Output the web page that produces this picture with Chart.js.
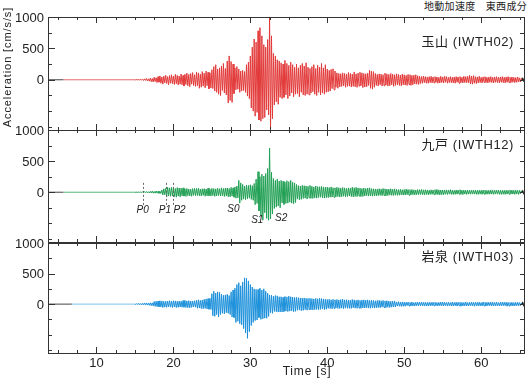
<!DOCTYPE html>
<html>
<head>
<meta charset="utf-8">
<script src="https://cdn.jsdelivr.net/npm/chart.js@4"></script>
<style>
  body { margin: 0; background: #fff; width: 529px; height: 383px; overflow: hidden; position: relative; }
  canvas { position: absolute; left: 0; }
  .txt { position: absolute; white-space: nowrap; color: #222; }
</style>
</head>
<body>
<div class="txt" style="right:2px;top:-2px;font:10px 'Noto Sans CJK JP';letter-spacing:0.3px;">地動加速度　東西成分</div>
<canvas id="c1" width="529" height="137" style="top:5px"></canvas>
<canvas id="c2" width="529" height="136" style="top:118px"></canvas>
<canvas id="c3" width="529" height="152" style="top:231px"></canvas>
<script>
// time axis of the traces: first sample and step (s)
const T0 = 15;
const DT = 0.125;
const xMin = 3.7;
const xMax = 65.7;
const yTicks = [-750, -500, -250, 0, 250, 500, 750, 1000];
const yLabels = [0, 500, 1000];
const xLabels = [10, 20, 30, 40, 50, 60];

const stations = ["玉山 (IWTH02)", "九戸 (IWTH12)", "岩泉 (IWTH03)"];

// acceleration [cm/s/s], 8 samples per second from 15 s (one row = one second)
const tamayama = [
  2,-3,4,-2,3,-4,5,-3,
  8,-12,15,-10,20,-18,14,-22,
  25,-30,20,-35,40,-28,33,-45,
  50,-38,62,-55,45,-70,58,-48,
  72,-60,50,-78,66,-55,80,-62,
  58,-75,85,-64,70,-82,60,-70,
  92,-80,70,-100,88,-75,105,-95,
  85,-110,98,-70,115,-92,80,-105,
  125,-95,110,-135,90,-118,130,-100,
  105,-128,140,-95,120,-145,110,-130,
  160,-140,210,-180,240,-200,170,-230,
  190,-250,220,-170,260,-210,180,-240,
  300,-370,380,-330,290,-360,250,-220,
  190,-160,210,-150,170,-200,140,-180,
  150,-170,130,-200,240,-260,280,-300,
  380,-450,520,-500,650,-580,600,-520,
  780,-640,830,-660,700,-620,560,-600,
  520,-480,640,-560,1000,-770,700,-620,
  420,-400,380,-350,320,-390,300,-280,
  270,-300,250,-280,310,-240,260,-300,
  230,-260,280,-210,240,-270,200,-230,
  250,-220,190,-270,230,-200,260,-240,
  220,-250,270,-230,200,-240,180,-210,
  210,-190,240,-230,180,-250,230,-200,
  200,-240,260,-210,190,-230,240,-200,
  170,-190,150,-180,165,-140,175,-160,
  140,-120,110,-135,100,-115,95,-105,
  110,-95,100,-120,90,-105,115,-100,
  100,-115,90,-105,125,-110,95,-120,
  105,-100,120,-95,110,-125,100,-115,
  95,-110,105,-90,150,-135,140,-150,
  130,-120,100,-90,85,-100,95,-80,
  90,-100,80,-95,105,-85,95,-100,
  85,-95,100,-80,90,-105,80,-90,
  95,-80,85,-90,75,-95,90,-80,
  80,-85,70,-90,85,-75,80,-90,
  70,-80,75,-65,80,-70,65,-75,
  55,-60,50,-55,60,-45,50,-55,
  45,-55,50,-45,55,-50,45,-50,
  50,-40,45,-55,40,-50,55,-45,
  45,-50,55,-40,50,-55,40,-45,
  50,-45,40,-50,45,-55,50,-40,
  45,-55,50,-45,40,-50,55,-45,
  50,-45,55,-50,70,-65,60,-70,
  65,-55,50,-60,45,-50,55,-45,
  40,-50,45,-40,50,-45,40,-50,
  45,-40,50,-45,40,-50,45,-40,
  50,-45,40,-50,45,-40,50,-45,
  40,-50,45,-40,50,-45,40,-45,
  45,-40,40,-45,35,-40,45,-35,
  30,-35,30
];
const kunohe = [
  2,-3,2,-2,3,-2,3,-3,
  6,-8,10,-7,12,-10,8,-12,
  14,-12,18,-15,12,-16,20,-14,
  16,-18,15,-20,35,-45,55,-40,
  62,-75,80,-58,70,-65,78,-60,
  72,-68,60,-80,75,-62,68,-74,
  65,-58,70,-62,55,-68,60,-55,
  52,-60,48,-65,58,-50,62,-56,
  60,-52,65,-58,50,-62,55,-50,
  58,-64,52,-60,66,-55,50,-62,
  62,-55,58,-66,54,-60,64,-52,
  56,-62,70,-58,60,-68,65,-60,
  68,-72,60,-75,78,-62,70,-80,
  85,-95,100,-90,190,-175,150,-130,
  125,-110,100,-120,115,-105,110,-95,
  120,-115,105,-130,140,-200,210,-180,
  330,-300,250,-380,290,-450,260,-330,
  300,-420,380,-450,710,-430,320,-350,
  220,-260,190,-240,210,-220,180,-250,
  190,-170,175,-195,160,-180,185,-175,
  170,-160,190,-175,160,-185,150,-165,
  125,-110,105,-120,100,-115,110,-100,
  105,-95,100,-110,95,-90,110,-100,
  95,-100,85,-90,100,-95,90,-85,
  88,-80,95,-90,85,-95,80,-88,
  82,-85,75,-80,85,-78,72,-82,
  70,-75,80,-70,72,-78,68,-72,
  75,-65,70,-72,62,-68,70,-60,
  66,-70,80,-75,72,-68,78,-70,
  70,-62,65,-70,60,-68,66,-60,
  60,-55,68,-62,70,-60,58,-64,
  55,-60,52,-58,50,-55,56,-50,
  50,-56,60,-52,54,-58,50,-54,
  50,-46,55,-50,48,-52,54,-48,
  45,-50,42,-48,46,-44,40,-46,
  42,-45,50,-40,44,-48,40,-42,
  45,-40,38,-42,36,-40,42,-38,
  40,-36,45,-40,38,-42,40,-36,
  36,-40,32,-36,38,-34,35,-38,
  40,-36,45,-40,38,-42,36,-40,
  35,-40,36,-32,38,-36,34,-30,
  40,-35,32,-36,30,-34,36,-32,
  35,-30,40,-35,32,-38,34,-30,
  30,-35,32,-30,30,-32,34,-30,
  35,-30,32,-34,30,-35,32,-30,
  30,-35,35,-30,32,-34,30,-32,
  30,-32,35,-30,30,-34,32,-30,
  35,-30,32,-34,30,-35,30,-32,
  30,-35,32,-30,30,-32,34,-30,
  35,-30,30,-34,32,-30,30,-35,
  30,-25,25
];
const iwaizumi = [
  6,-8,10,-7,12,-10,9,-12,
  14,-12,18,-15,20,-16,15,-20,
  22,-25,20,-28,42,-38,48,-42,
  50,-45,55,-48,52,-56,46,-50,
  45,-52,50,-44,56,-50,48,-55,
  55,-48,52,-56,46,-52,50,-48,
  48,-52,58,-50,60,-56,52,-58,
  56,-60,50,-54,48,-45,54,-50,
  62,-68,70,-64,60,-72,66,-75,
  78,-70,85,-80,90,-84,95,-88,
  170,-190,210,-200,180,-170,200,-210,
  190,-170,160,-150,145,-160,150,-140,
  160,-150,140,-170,200,-210,230,-220,
  260,-300,320,-280,350,-320,300,-340,
  360,-400,430,-470,420,-560,380,-450,
  320,-350,280,-300,250,-270,240,-260,
  240,-220,260,-250,230,-240,250,-230,
  210,-230,180,-200,150,-140,145,-150,
  130,-120,140,-125,135,-130,120,-128,
  120,-130,110,-120,125,-115,118,-122,
  130,-115,120,-110,115,-125,110,-118,
  110,-100,105,-95,100,-108,98,-102,
  100,-90,95,-100,92,-88,96,-94,
  90,-95,85,-90,92,-86,88,-92,
  95,-85,90,-80,85,-90,80,-84,
  75,-70,80,-72,70,-76,78,-70,
  70,-65,75,-70,68,-72,74,-66,
  80,-75,70,-65,72,-68,66,-70,
  65,-70,75,-60,70,-66,62,-68,
  70,-65,60,-70,66,-62,70,-64,
  65,-60,70,-65,62,-68,64,-60,
  60,-65,55,-60,58,-56,62,-58,
  55,-50,60,-55,52,-58,56,-52,
  50,-55,45,-50,48,-46,52,-48,
  35,-30,40,-35,32,-38,36,-34,
  30,-35,30,-25,32,-30,28,-32,
  35,-30,25,-30,30,-28,32,-26,
  30,-25,35,-30,28,-32,30,-28,
  25,-30,30,-25,28,-26,30,-28,
  30,-25,25,-30,28,-26,32,-28,
  35,-30,30,-25,28,-32,30,-26,
  25,-30,35,-30,28,-26,30,-32,
  30,-25,30,-35,28,-30,26,-28,
  35,-30,25,-30,30,-28,32,-26,
  30,-35,30,-25,28,-30,32,-28,
  25,-30,35,-30,28,-32,30,-26,
  30,-25,30,-30,32,-28,26,-30,
  35,-30,25,-30,30,-28,32,-26,
  30,-25,30,-35,28,-30,26,-28,
  30,-30,25,-30,28,-26,30,-28,
  25,-25,20
];
// quiet part before the event: end of the dark record (s)
const leadEnd = [5.7, 5.7, 6.8];
const tailTimes = [65.25, 65.4, 65.55, 65.7];
const tailValues = [0, 20, -20, 0];

// phase picks on 九戸
const pickTimes = [16.1, 19.0, 20.0];
const phaseNames = ["P0", "P1", "P2", "S0", "S1", "S2"];
const phaseLabelX = [16.0, 18.9, 20.8, 27.8, 30.9, 34.0];
const phaseLabelY = [-290, -290, -290, -280, -450, -420];

const colors = ["#e23a3a", "#22a055", "#1c90da"];
const quietColors = ["#e86a6a", "#55b67a", "#7cc2ec"];

const toPoints = (vals) => vals.map((v, i) => ({ x: T0 + i * DT, y: v }));

const framePlugin = {
  id: "frame",
  afterDraw(chart) {
    const { ctx, chartArea: a, scales } = chart;
    const x = scales.x;
    const y = scales.y;
    const idx = chart.options.panel;
    ctx.save();
    ctx.strokeStyle = "#333";
    ctx.lineWidth = 1;
    ctx.strokeRect(a.left + 0.5, a.top + 0.5, a.right - a.left - 1, a.bottom - a.top);
    // x ticks, inward, top and bottom
    ctx.beginPath();
    for (let t = 5; t <= xMax; t += 2.5) {
      const px = Math.round(x.getPixelForValue(t)) + 0.5;
      const len = t % 10 === 0 ? 6 : 3;
      ctx.moveTo(px, a.top); ctx.lineTo(px, a.top + len);
      ctx.moveTo(px, a.bottom); ctx.lineTo(px, a.bottom - len);
    }
    // y ticks, inward, left and right
    yTicks.forEach((v) => {
      const py = Math.round(y.getPixelForValue(v)) + 0.5;
      const len = yLabels.includes(v) ? 7 : 4;
      ctx.moveTo(a.left, py); ctx.lineTo(a.left + len, py);
      ctx.moveTo(a.right, py); ctx.lineTo(a.right - 5, py);
    });
    ctx.stroke();

    ctx.fillStyle = "#222";
    ctx.font = "13px 'Liberation Sans', Arial";
    ctx.textAlign = "right";
    ctx.textBaseline = "middle";
    yLabels.forEach((v) => ctx.fillText(String(v), a.left - 4, y.getPixelForValue(v) + 1));

    // station name
    ctx.font = "13px 'Liberation Sans', 'Noto Sans CJK JP'";
    ctx.letterSpacing = "0.6px";
    const nameY = idx === 0 ? 600 : 760;
    ctx.fillText(stations[idx], 514, y.getPixelForValue(nameY));
    ctx.letterSpacing = "0px";

    if (idx === 1) {
      ctx.strokeStyle = "#666";
      ctx.setLineDash([2, 2]);
      ctx.beginPath();
      pickTimes.forEach((t) => {
        const px = Math.round(x.getPixelForValue(t)) + 0.5;
        ctx.moveTo(px, y.getPixelForValue(150));
        ctx.lineTo(px, y.getPixelForValue(-210));
      });
      ctx.stroke();
      ctx.setLineDash([]);
      ctx.font = "italic 10px 'Liberation Sans', Arial";
      ctx.textAlign = "center";
      phaseNames.forEach((n, i) => {
        ctx.fillText(n, x.getPixelForValue(phaseLabelX[i]), y.getPixelForValue(phaseLabelY[i]));
      });
    }

    if (idx === 2) {
      ctx.font = "13px 'Liberation Sans', Arial";
      ctx.textAlign = "center";
      ctx.textBaseline = "middle";
      xLabels.forEach((t) => ctx.fillText(String(t), x.getPixelForValue(t), a.bottom + 10));
      ctx.font = "12px 'Liberation Sans', Arial";
      ctx.letterSpacing = "0.8px";
      ctx.fillText("Time [s]", 307, a.bottom + 19);
      ctx.letterSpacing = "0px";
    }
    if (idx === 0) {
      ctx.translate(8, 62);
      ctx.rotate(-Math.PI / 2);
      ctx.font = "11px 'Liberation Sans', Arial";
      ctx.letterSpacing = "0.9px";
      ctx.textAlign = "center";
      ctx.fillText("Acceleration [cm/s/s]", 0, 0);
    }
    ctx.restore();
  },
};

const makePanel = (id, idx, values, padBottom) => {
  new Chart(document.getElementById(id), {
    type: "line",
    data: {
      datasets: [
        { data: [{ x: xMin, y: 0 }, { x: leadEnd[idx], y: 0 }], borderColor: "#444" },
        { data: [{ x: leadEnd[idx], y: 0 }, { x: T0, y: 0 }], borderColor: quietColors[idx] },
        { data: toPoints(values), borderColor: colors[idx] },
        { data: tailTimes.map((t, i) => ({ x: t, y: tailValues[i] })), borderColor: "#222", borderWidth: 1.5 },
      ],
    },
    options: {
      panel: idx,
      responsive: false,
      animation: false,
      layout: { padding: { left: 48, right: 4, top: 12, bottom: padBottom } },
      scales: {
        x: { type: "linear", min: xMin, max: xMax, display: false },
        y: { min: -800, max: 1000, display: false },
      },
      elements: { point: { radius: 0 }, line: { borderWidth: 1, tension: 0 } },
      plugins: { legend: { display: false }, tooltip: { enabled: false } },
    },
    plugins: [framePlugin],
  });
};

makePanel("c1", 0, tamayama, 12);
makePanel("c2", 1, kunohe, 12);
makePanel("c3", 2, iwaizumi, 30);
</script>
</body>
</html>
